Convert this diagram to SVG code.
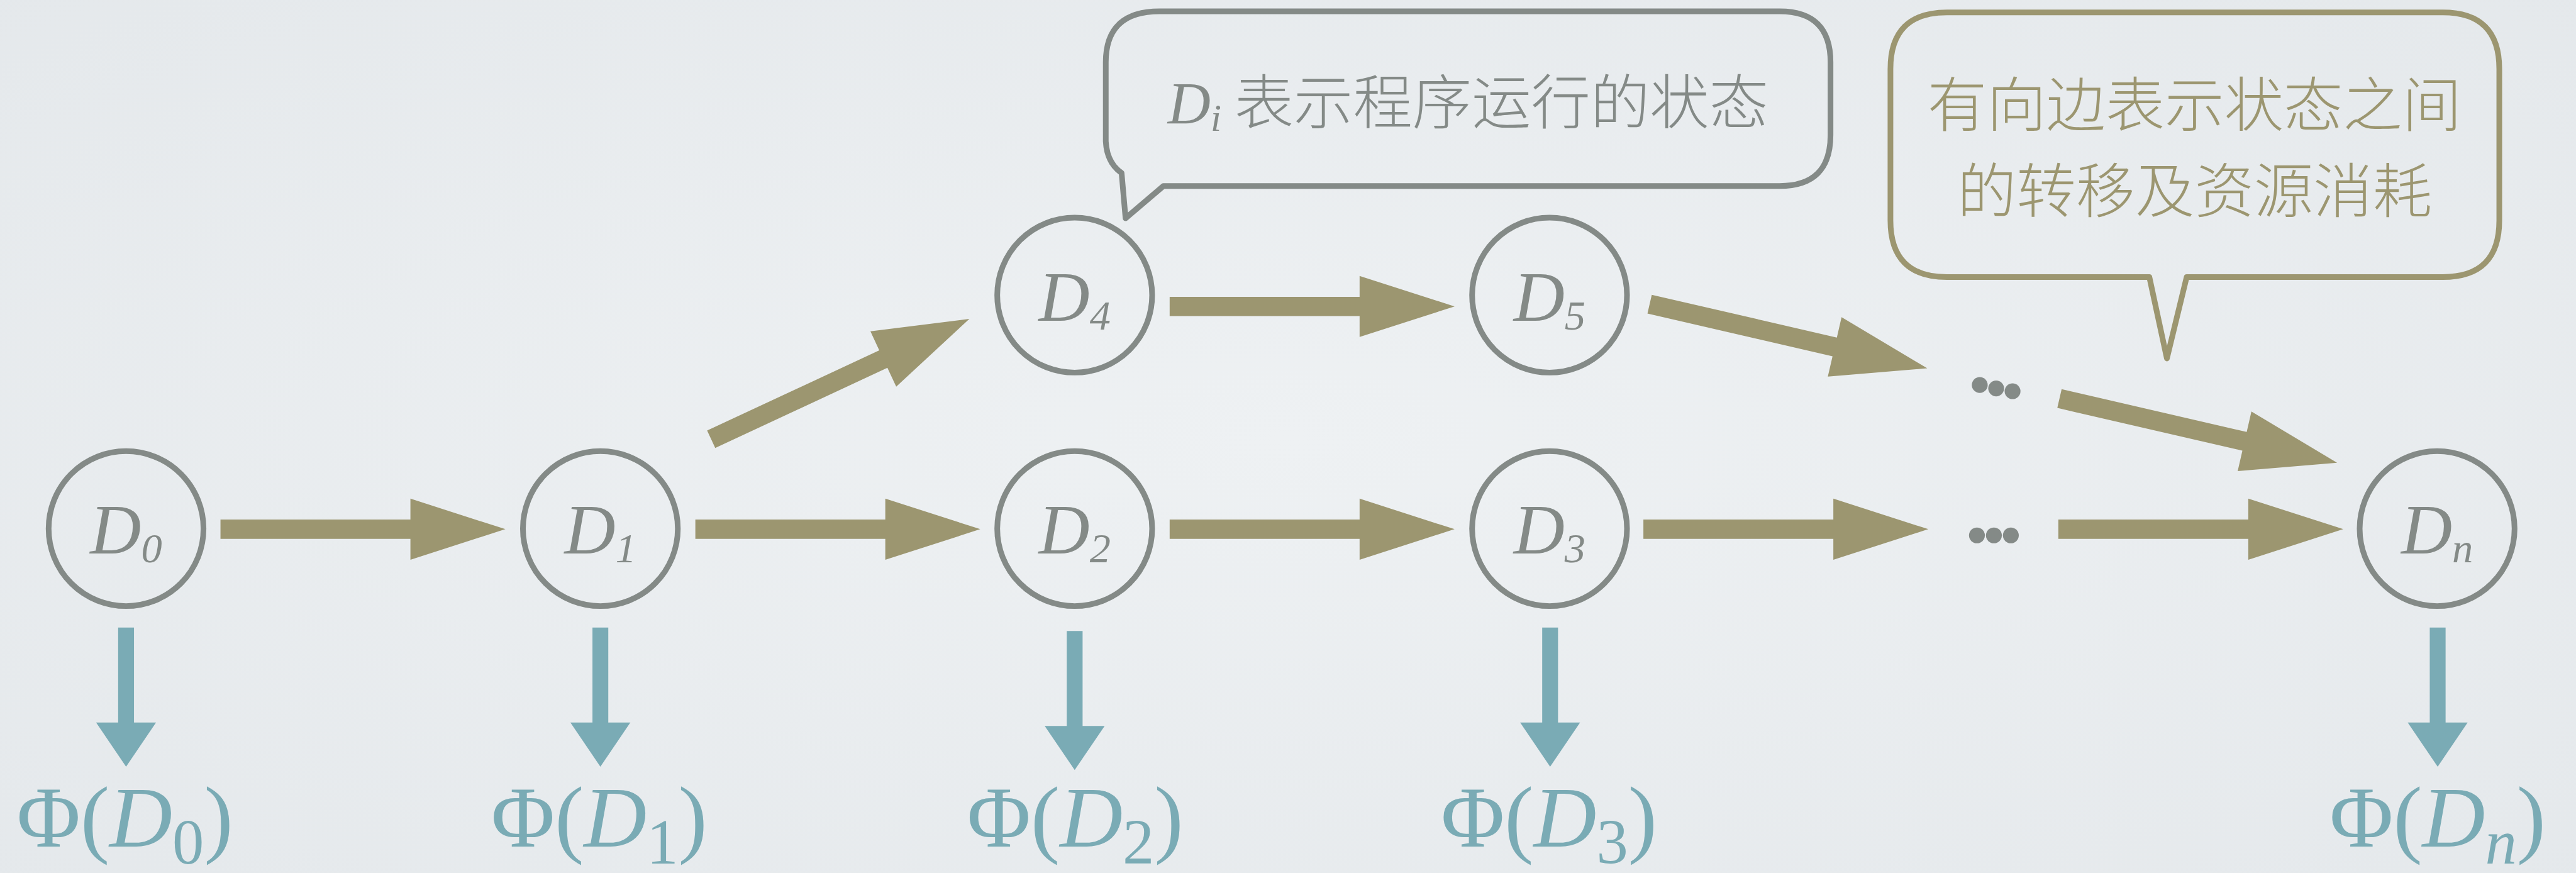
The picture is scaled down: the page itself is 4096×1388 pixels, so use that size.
<svg xmlns="http://www.w3.org/2000/svg" xmlns:xlink="http://www.w3.org/1999/xlink" width="4096" height="1388" viewBox="0 0 4096 1388">
<defs>
<radialGradient id="bg" cx="50%" cy="50%" r="75%">
<stop offset="0" stop-color="#eef1f3"/>
<stop offset="1" stop-color="#e4e8eb"/>
</radialGradient>
<path id="arr" d="M0,-17 L336,-17 L336,-54 L504,0 L336,54 L336,17 L0,17 Z"/>
<path id="darr" d="M-14,0 L14,0 L14,168 L53,168 L0,246 L-53,168 L-14,168 Z"/>
<style>
.node{fill:none;stroke:#848a87;stroke-width:10}
.lbl{font-family:"Liberation Serif",serif;font-style:italic;font-size:125px;fill:#848a87;text-anchor:middle}
.sub{font-size:74px}
.olive{fill:#9c9670}
.teal{fill:#7aabb5}
.phi{font-family:"Liberation Serif",serif;font-size:154px;fill:#7aabb5;text-anchor:middle}
.psub{font-size:112px;font-style:normal}
.it{font-style:italic}
.bubble1{fill:none;stroke:#848a87;stroke-width:10;stroke-linejoin:round}
.bubble2{fill:none;stroke:#9c9670;stroke-width:10;stroke-linejoin:round}
.cjk{font-family:"Noto Sans CJK SC","Noto Sans CJK JP",sans-serif;font-weight:300;font-size:105px}
.dot{fill:#848a87}
</style>
</defs>
<rect x="0" y="0" width="4096" height="1388" fill="url(#bg)"/>
<g transform="scale(0.8989)">
<g id="connectors">
<use xlink:href="#arr" href="#arr" class="olive" transform="translate(390,936)"/>
<use xlink:href="#arr" href="#arr" class="olive" transform="translate(1230,936)"/>
<use xlink:href="#arr" href="#arr" class="olive" transform="translate(2069,936)"/>
<use xlink:href="#arr" href="#arr" class="olive" transform="translate(2907,936)"/>
<use xlink:href="#arr" href="#arr" class="olive" transform="translate(3641,936)"/>
<use xlink:href="#arr" href="#arr" class="olive" transform="translate(2069,542)"/>
<use xlink:href="#arr" href="#arr" class="olive" transform="translate(1258,777) rotate(-25)"/>
<use xlink:href="#arr" href="#arr" class="olive" transform="translate(2918,538) rotate(13)"/>
<use xlink:href="#arr" href="#arr" class="olive" transform="translate(3643,705) rotate(13)"/>
<use xlink:href="#darr" href="#darr" class="teal" transform="translate(223,1110)"/>
<use xlink:href="#darr" href="#darr" class="teal" transform="translate(1062,1110)"/>
<use xlink:href="#darr" href="#darr" class="teal" transform="translate(1901,1116)"/>
<use xlink:href="#darr" href="#darr" class="teal" transform="translate(2742,1110)"/>
<use xlink:href="#darr" href="#darr" class="teal" transform="translate(4312,1110)"/>
</g>
<g id="node-D0">
<circle class="node" cx="223" cy="935" r="137"/>
<text class="lbl" x="223" y="979">D<tspan class="sub" dy="16">0</tspan></text>
</g>
<g id="node-D1">
<circle class="node" cx="1062" cy="935" r="137"/>
<text class="lbl" x="1062" y="979">D<tspan class="sub" dy="16">1</tspan></text>
</g>
<g id="node-D2">
<circle class="node" cx="1901" cy="935" r="137"/>
<text class="lbl" x="1901" y="979">D<tspan class="sub" dy="16">2</tspan></text>
</g>
<g id="node-D3">
<circle class="node" cx="2741" cy="935" r="137"/>
<text class="lbl" x="2741" y="979">D<tspan class="sub" dy="16">3</tspan></text>
</g>
<g id="node-D4">
<circle class="node" cx="1901" cy="522" r="137"/>
<text class="lbl" x="1901" y="567">D<tspan class="sub" dy="16">4</tspan></text>
</g>
<g id="node-D5">
<circle class="node" cx="2741" cy="522" r="137"/>
<text class="lbl" x="2741" y="567">D<tspan class="sub" dy="16">5</tspan></text>
</g>
<g id="node-Dn">
<circle class="node" cx="4311" cy="935" r="137"/>
<text class="lbl" x="4311" y="979">D<tspan class="sub" dy="16">n</tspan></text>
</g>
<g id="dots-upper">
<circle class="dot" cx="3502" cy="681" r="14"/>
<circle class="dot" cx="3531" cy="687" r="14"/>
<circle class="dot" cx="3560" cy="692" r="14"/>
</g>
<g id="dots-lower">
<circle class="dot" cx="3497" cy="947" r="14"/>
<circle class="dot" cx="3527" cy="947" r="14"/>
<circle class="dot" cx="3557" cy="947" r="14"/>
</g>
<g id="phi-D0"><text class="phi" x="221" y="1497">Φ(<tspan class="it">D</tspan><tspan class="psub" dy="30">0</tspan><tspan dy="-30">)</tspan></text></g>
<g id="phi-D1"><text class="phi" x="1060" y="1497">Φ(<tspan class="it">D</tspan><tspan class="psub" dy="30">1</tspan><tspan dy="-30">)</tspan></text></g>
<g id="phi-D2"><text class="phi" x="1902" y="1497">Φ(<tspan class="it">D</tspan><tspan class="psub" dy="30">2</tspan><tspan dy="-30">)</tspan></text></g>
<g id="phi-D3"><text class="phi" x="2740" y="1497">Φ(<tspan class="it">D</tspan><tspan class="psub" dy="30">3</tspan><tspan dy="-30">)</tspan></text></g>
<g id="phi-Dn"><text class="phi" x="4312" y="1497">Φ(<tspan class="it">D</tspan><tspan class="psub it" dy="30">n</tspan><tspan dy="-30">)</tspan></text></g>
<g id="callout-state">
<path class="bubble1" d="M2058,329 L3148,329 Q3238,329 3238,239 L3238,110 Q3238,20 3148,20 L2051,20 Q1956,20 1956,110 L1956,250 Q1958,288 1984,306 L1991,386 Z"/>
<text x="2597" y="219" text-anchor="middle" fill="#848a87"><tspan font-family="Liberation Serif, serif" font-style="italic" font-size="105">D</tspan><tspan font-family="Liberation Serif, serif" font-style="italic" font-size="68" dy="12">i</tspan><tspan class="cjk" dy="-12"> 表示程序运行的状态</tspan></text>
</g>
<g id="callout-edge">
<path class="bubble2" d="M3802,490 L3444,490 Q3344,490 3344,390 L3344,122 Q3344,22 3444,22 L4321,22 Q4421,22 4421,122 L4421,390 Q4421,490 4321,490 L3868,490 L3833,634 Z"/>
<text class="cjk" x="3882" y="224" text-anchor="middle" fill="#9c9670">有向边表示状态之间</text>
<text class="cjk" x="3882" y="376" text-anchor="middle" fill="#9c9670">的转移及资源消耗</text>
</g>
</g>
</svg>
